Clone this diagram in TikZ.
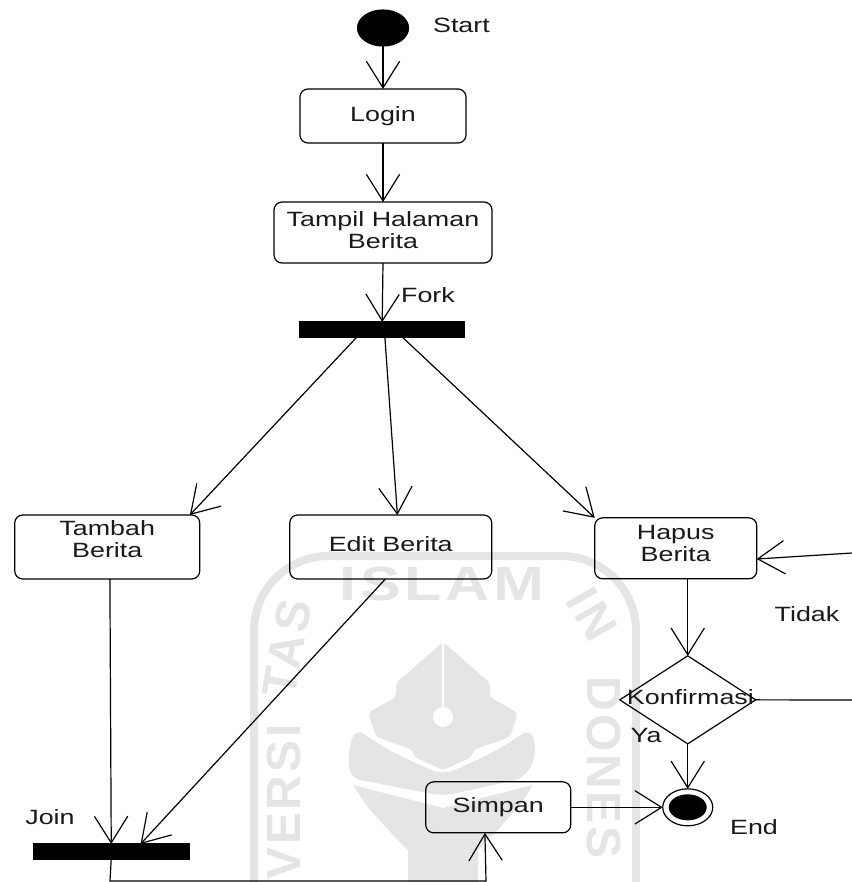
\documentclass[tikz,border=0pt]{standalone}
\usepackage{fontspec}
\setmainfont[FakeStretch=1.3]{Liberation Sans}
\newfontfamily\wmfont[LetterSpace=6]{Liberation Sans Bold}
\newcommand{\textlift}[1]{\rule[-#1]{0pt}{#1}}
\usetikzlibrary{positioning,shapes.geometric,arrows.meta}

\begin{document}
\begin{tikzpicture}[
		x=0.75pt, y=-0.75pt, line width=0.9pt,
		action/.style = {
			draw, rectangle, rounded corners=6pt,
			align=center, text=black!90,
			outer sep=0cm, inner sep=0cm,
			font=\fontsize{15.5}{16.5}\selectfont
		},
		bar/.style = {
			draw, fill=black, rectangle,
			minimum height=11.25pt,
			outer sep=0cm, inner sep=0cm
		},
		choice/.style = {
			draw, diamond, shape aspect=1.5,
			minimum width=102pt, minimum height=66pt,
			outer sep=0cm, inner sep=0cm
		},
		caption/.style = {
			text=black!90, inner sep=0cm,
			font=\fontsize{15.5}{16.5}\selectfont
		},
		flow/.style = {-{Straight Barb[length=20pt,width=25pt]}},
		wm/.style = {
			text=black!10, inner sep=0cm,
			font=\wmfont\fontsize{36}{36}\selectfont
		}
	]
	\useasboundingbox (0,0) rectangle (852,882);

	\draw[black!10, line width=6pt, rounded corners=56pt] (254,882) -- (254,556) -- (636,556) -- (636,882);
	\node[wm, xscale=1.27] (wmislam) at (442,584) {ISLAM};
	\node[wm, rotate=90] (wmversi) at (284,802) {VERSI};
	\node[wm, rotate=80] (wmtas) at (287,648) {TAS};
	\node[wm, rotate=-60] (wmin) at (592,614) {IN};
	\node[wm, rotate=-90, anchor=west] (wmdones) at (604,676) {DONES};
	\fill[black!10, rounded corners=3pt] (443,642) -- (490,683) -- (490,697) -- (518,713) -- (510,737) -- (473,750) -- (472,757) -- (443,770)
		-- (414,757) -- (413,750) -- (376,737) -- (368,713) -- (396,697) -- (396,683) -- cycle;
	\draw[white, line width=1.5pt] (443,642) -- (443,712);
	\fill[white] (443,717) circle (10);
	\fill[black!10, rounded corners=8pt] (531,728) -- (537,753) -- (525,778) -- (443,796) -- (350,778) -- (348,753) -- (355,728)
		-- (385,748) -- (413,762) -- (443,775) -- (473,762) -- (501,748) -- cycle;
	\fill[black!10] (533,785) -- (443,808) -- (353,785) -- (366,805) -- (393,835) -- (408,850) -- (408,882) -- (478,882) -- (478,850) -- (493,835) -- (520,805) -- cycle;

	\node[draw, fill=black, ellipse, minimum width=38.25pt, minimum height=27pt, outer sep=0cm, inner sep=0cm] (start) at (383,28) {};
	\node[caption, right=18pt of start, yshift=2pt] (lblstart) {Start};
	\node[action, below=32.25pt of start, minimum width=124.5pt, minimum height=40.5pt] (login) {Login};
	\node[action, below=44.25pt of login, minimum width=163.5pt, minimum height=45.75pt] (tampil) {Tampil Halaman\\Berita\textlift{3pt}};
	\node[bar, below=44.25pt of tampil, xshift=-0.6pt, minimum width=123.75pt] (forkbar) {};
	\node[caption] (lblfork) at (428,295) {Fork};
	\node[action, below=133.5pt of forkbar, xshift=6.4pt, minimum width=151.5pt, minimum height=48pt] (edit) {Edit Berita\textlift{4pt}};
	\node[action, left=67.5pt of edit, minimum width=138.75pt, minimum height=48pt] (tambah) {Tambah\\Berita\textlift{12pt}};
	\node[action, right=77.25pt of edit, yshift=-1pt, minimum width=121.5pt, minimum height=45.75pt] (hapus) {Hapus\\Berita\textlift{7pt}};
	\node[caption] (lbltidak) at (807,614) {Tidak};
	\node[choice, below=57.75pt of hapus, xshift=9pt] (konfirmasi) {};
	\node[caption, xshift=2pt, yshift=2pt] (lblkonfirmasi) at (konfirmasi) {Konfirmasi};
	\node[caption] (lblya) at (646,735) {Ya};
	\node[draw, ellipse, below=33.75pt of konfirmasi, minimum width=37.5pt, minimum height=27.75pt, outer sep=0cm, inner sep=0cm] (endstate) {};
	\node[fill=black, ellipse, minimum width=28.5pt, minimum height=19.5pt, outer sep=0cm, inner sep=0cm] (endcore) at (endstate) {};
	\node[caption] (lblend) at (754,827) {End};
	\node[action, left=69pt of endstate, minimum width=108.75pt, minimum height=38.25pt] (simpan) {Simpan};
	\node[bar, below=198.75pt of tambah, xshift=3pt, minimum width=117pt] (joinbar) {};
	\node[caption] (lbljoin) at (50,817) {Join};
	\coordinate (tidakin) at (852,553);
	\coordinate (tidakout) at (852,700);
	\coordinate (turna) at (110,881);
	\coordinate (turnb) at (486,881);

	\draw[flow] (start.south) -- (login.north);
	\draw[flow] (login.south) -- (tampil.north);
	\draw[flow] (tampil.south) -- (forkbar.north);
	\draw[flow] ([xshift=-19pt]forkbar.south) -- ([xshift=62pt]tambah.north);
	\draw[flow] ([xshift=2pt]forkbar.south) -- ([xshift=5pt]edit.north);
	\draw[flow] ([xshift=15pt]forkbar.south) -- (hapus.north west);
	\draw[flow] ([xshift=2pt]tambah.south) -- (joinbar.north);
	\draw[flow] ([xshift=-4pt]edit.south) -- ([xshift=22pt]joinbar.north);
	\draw[flow] ([xshift=9pt]hapus.south) -- (konfirmasi.north);
	\draw[flow] (konfirmasi.south) -- (endstate.north);
	\draw[flow] (simpan.east) -- (endstate.west);
	\draw (konfirmasi.east) -- (tidakout);
	\draw[flow] (tidakin) -- ([yshift=-8pt]hapus.east);
	\draw[flow] (joinbar.south) -- (turna) -- (turnb) -- ([xshift=-10pt]simpan.south);
\end{tikzpicture}
\end{document}
